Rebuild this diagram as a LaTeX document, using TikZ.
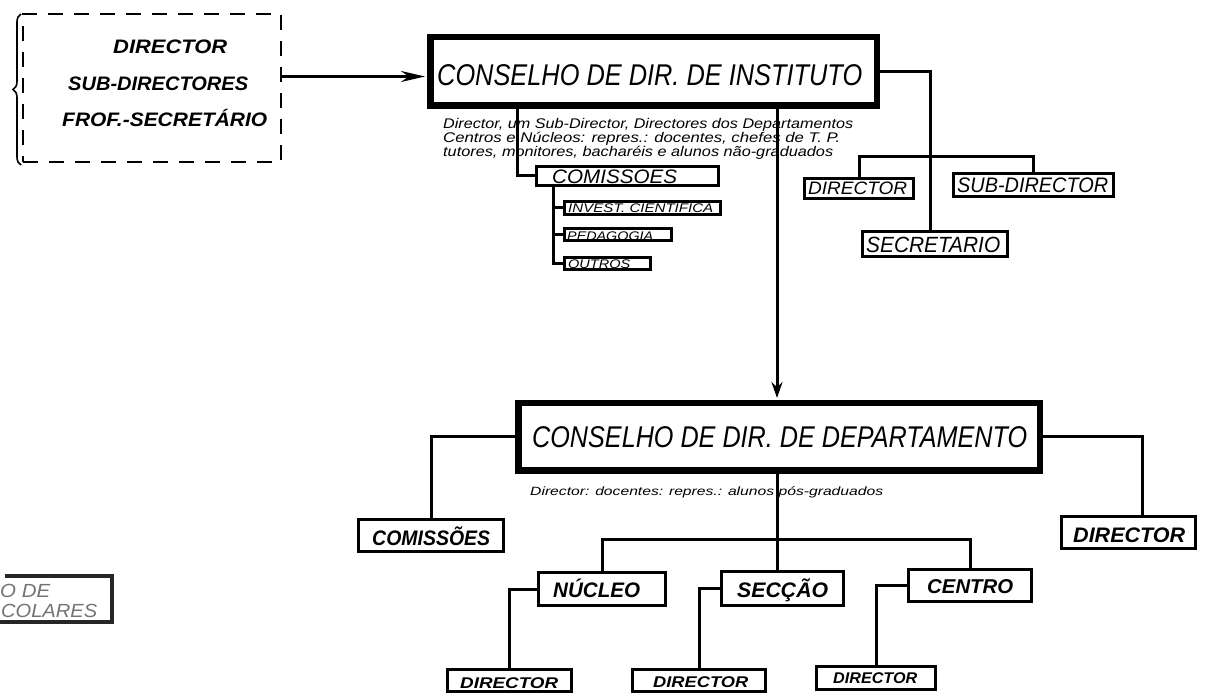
\documentclass[tikz,border=0pt]{standalone}
\usepackage{fontspec}
\setmainfont{Liberation Sans}
\usepackage{graphicx}
\usetikzlibrary{arrows.meta,decorations.pathreplacing,calc}
\newcommand\fitw[3]{{\fontsize{#1}{#1}\selectfont\resizebox{#2}{\height}{#3}}}
\tikzset{
  conn/.style={line width=3pt, line join=miter},
  sbox/.style={draw, line width=3.4pt, inner sep=0pt},
  bigbox/.style={draw, line width=5pt, inner sep=0pt},
  dbx/.style={draw, line width=2.4pt, dash pattern=on 15pt off 11pt, inner sep=0pt},
  lbl/.style={inner sep=0pt, anchor=base west, font=\itshape},
  blbl/.style={inner sep=0pt, anchor=base west, font=\bfseries\itshape},
}
\begin{document}
\begin{tikzpicture}[x=1pt,y=-1pt]
\fill[white] (0,0) rectangle (1232,700);
\useasboundingbox (0,0) rectangle (1232,700);

% ---------- boxes ----------
\node[dbx, minimum width=258pt, minimum height=148pt] (dbox) at (152,88) {};
\node[bigbox, minimum width=448pt, minimum height=70pt] (inst) at (653.5,71.5) {};
\node[bigbox, minimum width=523pt, minimum height=69pt] (dept) at (779,437) {};
\draw[line width=2pt] ([shift={(5.5pt,-5.5pt)}]inst.north west) rectangle ([shift={(-5.5pt,5.5pt)}]inst.south east);
\draw[line width=2pt] ([shift={(5.5pt,-5.5pt)}]dept.north west) rectangle ([shift={(-5.5pt,5.5pt)}]dept.south east);

\node[sbox, minimum width=182pt, minimum height=19pt] (com1) at (627.5,176) {};
\node[sbox, minimum width=156pt, minimum height=13pt] (inv) at (642.5,208) {};
\node[sbox, minimum width=107pt, minimum height=12pt] (ped) at (618,234.5) {};
\node[sbox, minimum width=86pt, minimum height=12pt] (out) at (607.5,263.5) {};
\node[sbox, minimum width=109pt, minimum height=20pt] (idir) at (859,188.5) {};
\node[sbox, minimum width=160pt, minimum height=23pt] (isub) at (1033.5,185) {};
\node[sbox, minimum width=145pt, minimum height=25pt] (isec) at (935,244) {};
\node[sbox, minimum width=145pt, minimum height=32pt] (com2) at (431,535.5) {};
\node[sbox, minimum width=134pt, minimum height=32pt] (ddir) at (1128.5,532.5) {};
\node[sbox, minimum width=127pt, minimum height=33pt] (nuc) at (602,589) {};
\node[sbox, minimum width=122pt, minimum height=34pt] (sec) at (782.5,588.5) {};
\node[sbox, minimum width=123pt, minimum height=32pt] (cen) at (970,585.5) {};
\node[sbox, minimum width=124pt, minimum height=22pt] (nd) at (509.5,680.5) {};
\node[sbox, minimum width=133pt, minimum height=22pt] (sd) at (699,680.5) {};
\node[sbox, minimum width=119pt, minimum height=23pt] (cd) at (876,678) {};

% ---------- helper coordinates ----------
\coordinate (x517) at (517,0);
\coordinate (x553) at (553,0);
\coordinate (x777) at (777,0);
\coordinate (x930) at (930,0);
\coordinate (x1142) at (1142,0);
\coordinate (ain) at ([yshift=-5pt]inst.west);

% ---------- connectors ----------
\draw[line width=1.6pt, decorate, decoration={brace, amplitude=8pt}] (21,165) -- (21,14);
\draw[conn, -{Stealth[length=24pt,width=11pt]}] (dbox.east |- ain) -- ([xshift=-2pt]ain);
\draw[conn] (x517 |- inst.south) |- (com1.west);
\draw[conn] (x553 |- com1.south) |- (out.west);
\draw[conn] (x553 |- inv.west) -- (inv.west);
\draw[conn] (x553 |- ped.west) -- (ped.west);
\draw[conn] (inst.east) -| (x930 |- isec.north);
\draw[conn] (idir.north) -- ++(0,-20) -| (isub.north);
\draw[conn, -{Stealth[length=16pt,width=11pt]}] (x777 |- inst.south) -- ([yshift=2pt]x777 |- dept.north);
\draw[conn] (dept.west) -| (com2.north);
\draw[conn] (dept.east) -| (x1142 |- ddir.north);
\draw[conn] (x777 |- dept.south) -- (x777 |- sec.north);
\draw[conn] (nuc.north) -- ++(0,-31) -| (cen.north);
\draw[conn] (nuc.west) -| (nd.north);
\draw[conn] (sec.west) -| (sd.north);
\draw[conn] (cen.west) -| (cd.north);

% partial box at bottom left
\draw[line width=3.4pt, black!85] (5,576) -- (112,576) -- (112,622) -- (0,622);
\node[lbl, text=black!55] (pl1) at (0,597) {\fitw{19}{50pt}{O DE}};
\node[lbl, text=black!55] (pl2) at (1,617) {\fitw{19}{96pt}{COLARES}};

% ---------- labels ----------
\node[blbl] (dl1) at (113,54) {\fitw{19.5}{114pt}{DIRECTOR}};
\node[blbl] (dl2) at (68,91) {\fitw{19.5}{180pt}{SUB-DIRECTORES}};
\node[blbl] (dl3) at (62,127) {\fitw{19.5}{205pt}{FROF.-SECRETÁRIO}};
\node[lbl] (il) at (437,86) {\fitw{30}{425pt}{CONSELHO DE DIR. DE INSTITUTO}};
\node[lbl] (it1) at (443,129) {\fitw{14}{410pt}{Director, um Sub-Director, Directores dos Departamentos}};
\node[lbl] (it2) at (443,143) {\fitw{14}{397pt}{Centros e Núcleos: repres.: docentes, chefes de T. P.}};
\node[lbl] (it3) at (443,157) {\fitw{14}{390pt}{tutores, monitores, bacharéis e alunos não-graduados}};
\node[lbl] (c1l) at (552,184) {\fitw{19.5}{125pt}{COMISSOES}};
\node[lbl] (invl) at (568,213) {\fitw{12.5}{145pt}{INVEST. CIENTÍFICA}};
\node[lbl] (pedl) at (567,241) {\fitw{12.5}{86pt}{PEDAGOGIA}};
\node[lbl] (outl) at (568,269) {\fitw{12.5}{62pt}{OUTROS}};
\node[lbl] (idl) at (808,195) {\fitw{18}{99pt}{DIRECTOR}};
\node[lbl] (isl) at (957,193) {\fitw{21}{151pt}{SUB-DIRECTOR}};
\node[lbl] (iscl) at (866,253) {\fitw{22}{134pt}{SECRETARIO}};
\node[lbl] (deptl) at (532,448) {\fitw{30}{495pt}{CONSELHO DE DIR. DE DEPARTAMENTO}};
\node[lbl] (dtl) at (530,495) {\fitw{12}{353pt}{Director: docentes: repres.: alunos pós-graduados}};
\node[blbl] (c2l) at (372,545) {\fitw{21}{118pt}{COMISSÕES}};
\node[blbl] (ddl) at (1073,542) {\fitw{21}{112pt}{DIRECTOR}};
\node[blbl] (nul) at (553,597) {\fitw{21}{87pt}{NÚCLEO}};
\node[blbl] (sel) at (737,597) {\fitw{21}{91pt}{SECÇÃO}};
\node[blbl] (cel) at (927,593) {\fitw{20}{86pt}{CENTRO}};
\node[blbl] (ndl) at (460,688) {\fitw{15.5}{98pt}{DIRECTOR}};
\node[blbl] (sdl) at (653,687) {\fitw{15.5}{95pt}{DIRECTOR}};
\node[blbl] (cdl) at (833,683) {\fitw{15.5}{84pt}{DIRECTOR}};
\end{tikzpicture}
\end{document}
